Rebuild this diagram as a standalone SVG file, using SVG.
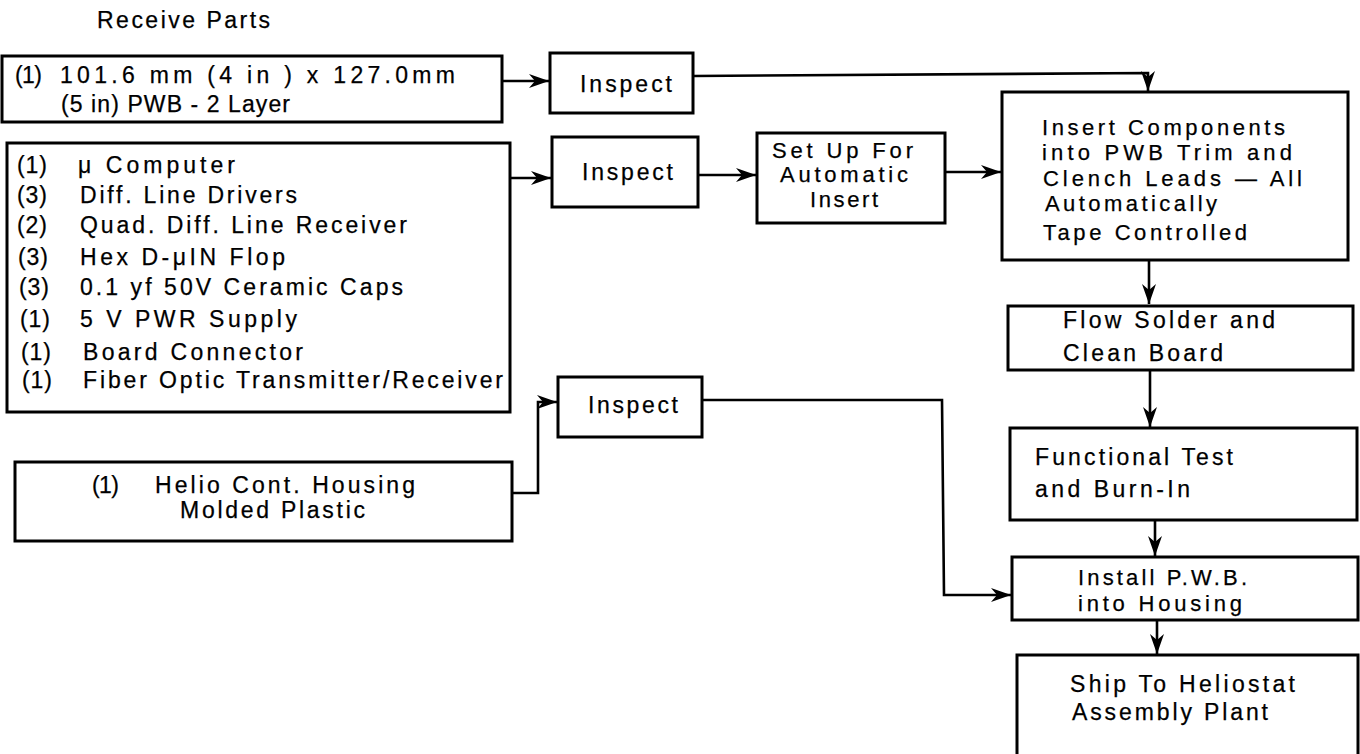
<svg xmlns="http://www.w3.org/2000/svg" width="1360" height="754" viewBox="0 0 1360 754">
<defs>
<style>
.box{fill:#fff;stroke:#000;stroke-width:3}
.t{font-family:"Liberation Sans",Arial,sans-serif;font-size:23px;fill:#000;stroke:#000;stroke-width:0.25}
.s{font-size:22px}
.c{fill:none;stroke:#000;stroke-width:2.6}
</style>
<marker id="ah" markerUnits="userSpaceOnUse" markerWidth="24" markerHeight="16" refX="20" refY="7" orient="auto">
<path d="M0,0 L20,7 L0,14 L6,7 z" fill="#000"/>
</marker>
</defs>
<rect width="1360" height="754" fill="#fff"/>
<text class="t" x="97" y="28" font-size="22" textLength="173" lengthAdjust="spacing">Receive Parts</text>
<g id="connectors">
<path class="c" d="M502,81 L549,81" marker-end="url(#ah)"/>
<path class="c" d="M693,76 L1148,73 L1148,91" marker-end="url(#ah)"/>
<path class="c" d="M510,178 L551,178" marker-end="url(#ah)"/>
<path class="c" d="M698,175 L756,175" marker-end="url(#ah)"/>
<path class="c" d="M945,172 L1001,172" marker-end="url(#ah)"/>
<path class="c" d="M1149,260 L1149,304" marker-end="url(#ah)"/>
<path class="c" d="M1150,370 L1150,427" marker-end="url(#ah)"/>
<path class="c" d="M1155,520 L1155,556" marker-end="url(#ah)"/>
<path class="c" d="M1157,620 L1157,654" marker-end="url(#ah)"/>
<path class="c" d="M512,493 L538,493 L538,402 L557,402" marker-end="url(#ah)"/>
<path class="c" d="M702,400 L942,400 L944,595 L1011,595" marker-end="url(#ah)"/>
</g>
<g id="pwb">
<rect class="box" x="2" y="56" width="500" height="66"/>
<text class="t" x="15" y="83" textLength="27" lengthAdjust="spacing">(1)</text>
<text class="t" x="60" y="83" textLength="395" lengthAdjust="spacing">101.6 mm (4 in ) x 127.0mm</text>
<text class="t" x="61" y="112" textLength="229" lengthAdjust="spacing">(5 in) PWB - 2 Layer</text>
</g>
<g id="inspect1">
<rect class="box" x="550" y="53" width="143" height="60"/>
<text class="t" x="580" y="92" textLength="92" lengthAdjust="spacing">Inspect</text>
</g>
<g id="components">
<rect class="box" x="7" y="143" width="503" height="269"/>
<text class="t" x="17" y="173" textLength="30" lengthAdjust="spacing">(1)</text>
<text class="t" x="78" y="173" textLength="157" lengthAdjust="spacing">μ Computer</text>
<text class="t" x="17" y="203" textLength="30" lengthAdjust="spacing">(3)</text>
<text class="t" x="80" y="203" textLength="217" lengthAdjust="spacing">Diff. Line Drivers</text>
<text class="t" x="17" y="233" textLength="30" lengthAdjust="spacing">(2)</text>
<text class="t" x="80" y="233" textLength="327" lengthAdjust="spacing">Quad. Diff. Line Receiver</text>
<text class="t" x="18" y="265" textLength="30" lengthAdjust="spacing">(3)</text>
<text class="t" x="80" y="265" textLength="205" lengthAdjust="spacing">Hex D-μIN Flop</text>
<text class="t" x="19" y="295" textLength="30" lengthAdjust="spacing">(3)</text>
<text class="t" x="80" y="295" textLength="323" lengthAdjust="spacing">0.1 yf 50V Ceramic Caps</text>
<text class="t" x="20" y="327" textLength="30" lengthAdjust="spacing">(1)</text>
<text class="t" x="80" y="327" textLength="217" lengthAdjust="spacing">5 V PWR Supply</text>
<text class="t" x="21" y="360" textLength="30" lengthAdjust="spacing">(1)</text>
<text class="t" x="83" y="360" textLength="220" lengthAdjust="spacing">Board Connector</text>
<text class="t" x="22" y="388" textLength="30" lengthAdjust="spacing">(1)</text>
<text class="t" x="83" y="388" textLength="420" lengthAdjust="spacing">Fiber Optic Transmitter/Receiver</text>
</g>
<g id="inspect2">
<rect class="box" x="552" y="137" width="146" height="70"/>
<text class="t" x="582" y="180" textLength="91" lengthAdjust="spacing">Inspect</text>
</g>
<g id="setup">
<rect class="box" x="757" y="133" width="188" height="90"/>
<text class="t s" x="772" y="158" textLength="141" lengthAdjust="spacing">Set Up For</text>
<text class="t s" x="780" y="182" textLength="128" lengthAdjust="spacing">Automatic</text>
<text class="t s" x="810" y="207" textLength="68" lengthAdjust="spacing">Insert</text>
</g>
<g id="insert">
<rect class="box" x="1002" y="92" width="346" height="168"/>
<text class="t s" x="1042" y="135" textLength="243" lengthAdjust="spacing">Insert Components</text>
<text class="t s" x="1042" y="160" textLength="250" lengthAdjust="spacing">into PWB Trim and</text>
<text class="t s" x="1043" y="186" textLength="259" lengthAdjust="spacing">Clench Leads — All</text>
<text class="t s" x="1045" y="211" textLength="172" lengthAdjust="spacing">Automatically</text>
<text class="t s" x="1043" y="240" textLength="204" lengthAdjust="spacing">Tape Controlled</text>
</g>
<g id="flow">
<rect class="box" x="1008" y="306" width="345" height="64"/>
<text class="t" x="1063" y="328" textLength="212" lengthAdjust="spacing">Flow Solder and</text>
<text class="t" x="1063" y="361" textLength="160" lengthAdjust="spacing">Clean Board</text>
</g>
<g id="functional">
<rect class="box" x="1010" y="428" width="347" height="92"/>
<text class="t" x="1035" y="465" textLength="198" lengthAdjust="spacing">Functional Test</text>
<text class="t" x="1035" y="497" textLength="155" lengthAdjust="spacing">and Burn-In</text>
</g>
<g id="install">
<rect class="box" x="1012" y="557" width="346" height="63"/>
<text class="t s" x="1078" y="585" textLength="169" lengthAdjust="spacing">Install P.W.B.</text>
<text class="t s" x="1078" y="611" textLength="164" lengthAdjust="spacing">into Housing</text>
</g>
<g id="ship">
<rect class="box" x="1017" y="655" width="341" height="102"/>
<text class="t" x="1070" y="692" textLength="225" lengthAdjust="spacing">Ship To Heliostat</text>
<text class="t" x="1072" y="720" textLength="196" lengthAdjust="spacing">Assembly Plant</text>
</g>
<g id="inspect3">
<rect class="box" x="558" y="377" width="144" height="60"/>
<text class="t" x="588" y="413" textLength="90" lengthAdjust="spacing">Inspect</text>
</g>
<g id="housing">
<rect class="box" x="15" y="462" width="497" height="79"/>
<text class="t" x="92" y="493" textLength="27" lengthAdjust="spacing">(1)</text>
<text class="t" x="155" y="493" textLength="260" lengthAdjust="spacing">Helio Cont. Housing</text>
<text class="t" x="180" y="518" textLength="185" lengthAdjust="spacing">Molded Plastic</text>
</g>
</svg>
